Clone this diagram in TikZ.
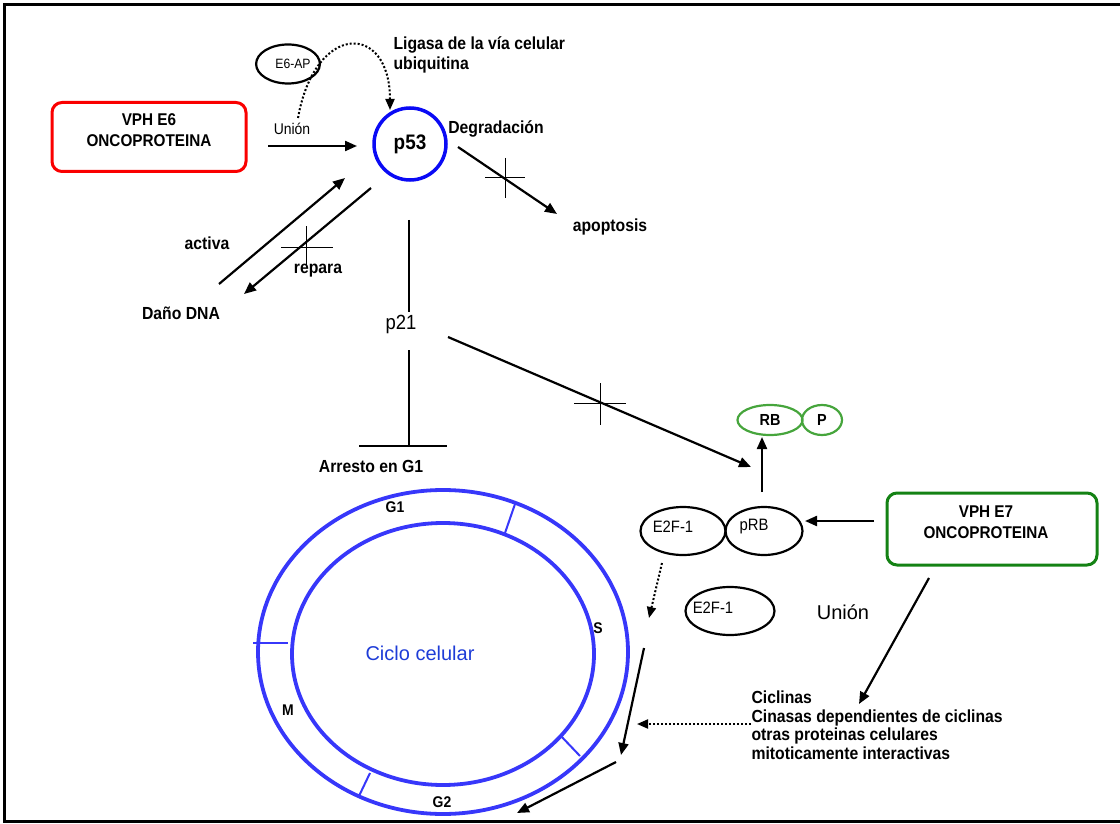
\documentclass[tikz,border=0pt]{standalone}
\usepackage{fontspec}
\setmainfont{Liberation Sans}
\newfontfamily\estrecha[FakeStretch=0.9]{Liberation Sans}
\usetikzlibrary{arrows.meta,shapes.geometric}

\definecolor{rojo}{RGB}{250,0,0}
\definecolor{verdeosc}{RGB}{20,130,20}
\definecolor{verde}{RGB}{70,165,60}
\definecolor{azul}{RGB}{10,10,245}
\definecolor{anillo}{RGB}{55,55,250}
\definecolor{azultxt}{RGB}{30,60,215}

\tikzset{
  arr/.style={line width=2.2pt,-{Triangle[length=12pt,width=10pt]}},
  dotarr/.style={line width=2pt,dash pattern=on 2pt off 2pt,-{Triangle[length=11pt,width=9pt]}},
  bar/.style={line width=2.4pt},
  cruz/.style={line width=1pt},
  lbl/.style={font=\estrecha\bfseries\fontsize{17.5}{20}\selectfont},
  reg/.style={font=\estrecha\fontsize{16.5}{18}\selectfont},
  vphbox/.style={draw,line width=3pt,rounded corners=10pt},
  vphtxt/.style={align=center,font=\estrecha\bfseries\fontsize{17}{21}\selectfont},
  elip/.style={draw,ellipse,line width=2.2pt,inner sep=0pt},
  rbelip/.style={elip,draw=verde,font=\estrecha\bfseries\fontsize{16}{18}\selectfont},
  ring/.style={draw=anillo,line width=3.8pt},
  tick/.style={draw=anillo,line width=2pt},
  fase/.style={font=\estrecha\bfseries\fontsize{15.5}{16}\selectfont}
}

\begin{document}
\begin{tikzpicture}[x=1pt,y=-1pt]
\useasboundingbox (0,0) rectangle (1120,824);
% marco
\draw[line width=3pt] (1120,5) -- (4,5) -- (4,821) -- (1120,821);

% E6 y p53
\node[vphbox,draw=rojo,minimum width=194pt,minimum height=69pt] (e6) at (149,137) {};
\node[vphtxt] (e6txt) at (149,130) {VPH E6\\ONCOPROTEINA};
\node[circle,draw=azul,line width=3.5pt,minimum size=72pt,inner sep=0pt,
  font=\estrecha\bfseries\fontsize{21}{22}\selectfont] (p53) at (410,144) {p53};
\node[elip,minimum width=60pt,minimum height=39pt,font=\estrecha\fontsize{13.5}{14}\selectfont] (e6ap) at (288,64) {\hspace{10pt}E6-AP};
\node[reg,font=\estrecha\fontsize{15.5}{16}\selectfont] (union1) at (292,129) {Unión};
\node[lbl,anchor=west,align=left] (ligasa) at (390,55) {Ligasa de la vía celular\\ubiquitina};
\node[lbl] (degr) at (496,129) {Degradación};
\node[lbl] (apop) at (610,227) {apoptosis};
\node[lbl] (activa) at (207,243) {activa};
\node[lbl] (repara) at (318,271) {repara};
\node[lbl] (dano) at (181,313) {Daño DNA};
\node[font=\estrecha\fontsize{20.5}{21}\selectfont] (p21) at (401,324) {p21};
\node[lbl] (arresto) at (371,466) {Arresto en G1};

\coordinate (u0) at (268,146);
\coordinate (u1) at (357,146);
\draw[arr] (u0) -- (u1);
\coordinate (lig0) at (298,118);
\coordinate (lig1) at (390,110);
\draw[dotarr] (lig0) .. controls (315,22) and (390,22) .. (lig1);

\coordinate (deg0) at (458,147);
\coordinate (deg1) at (557,214);
\draw[arr] (deg0) -- (deg1);
\draw[cruz] (485,178) -- (525,178) (505,158) -- (505,198);

\coordinate (act0) at (219,284);
\coordinate (act1) at (345,178);
\draw[arr] (act0) -- (act1);
\coordinate (rep0) at (371,188);
\coordinate (rep1) at (244,294);
\draw[arr] (rep0) -- (rep1);
\draw[cruz] (281,247) -- (333,247) (306,226) -- (306,266);

% p21
\coordinate (p21a) at (409,220);
\coordinate (p21b) at (409,312);
\coordinate (p21c) at (409,350);
\coordinate (p21d) at (409,446);
\coordinate (tl) at (359,446);
\coordinate (tr) at (447,446);
\draw[bar] (p21a) -- (p21b);
\draw[bar] (p21c) -- (p21d);
\draw[bar] (tl) -- (tr);
\coordinate (rb0) at (448,337);
\coordinate (rb1) at (751,467);
\draw[arr] (rb0) -- (rb1);
\draw[cruz] (574,403) -- (626,403) (600,383) -- (600,425);

% RB, E7
\node[rbelip,minimum width=65pt,minimum height=30pt] (rb) at (770,420) {RB};
\node[rbelip,minimum width=40pt,minimum height=30pt] (pfos) at (822,420) {P};
\node[vphbox,draw=verdeosc,minimum width=210pt,minimum height=72pt] (e7) at (992,529) {};
\node[vphtxt] (e7txt) at (986,522) {VPH E7\\ONCOPROTEINA};
\node[elip,minimum width=85pt,minimum height=48pt] (e2f) at (683,531) {};
\node[elip,minimum width=77pt,minimum height=48pt] (prb) at (764,531) {};
\node[elip,minimum width=89pt,minimum height=48pt] (e2flibre) at (730,611) {};
\node[reg] (e2ftxt) at (673,527) {E2F-1};
\node[reg] (prbtxt) at (754,527) {pRB};
\node[reg] (e2flibretxt) at (713,608) {E2F-1};
\node[font=\fontsize{20}{22}\selectfont] (union2) at (843,612) {Unión};

\coordinate (up0) at (762,492);
\coordinate (up1) at (762,437);
\draw[arr] (up0) -- (up1);
\coordinate (e70) at (874,521);
\coordinate (e71) at (805,521);
\draw[arr] (e70) -- (e71);
\coordinate (ef0) at (662,563);
\coordinate (ef1) at (649,618);
\draw[dotarr] (ef0) -- (ef1);
\coordinate (ci0) at (929,578);
\coordinate (ci1) at (859,704);
\draw[arr] (ci0) -- (ci1);

\node[lbl,font=\estrecha\bfseries\fontsize{17.5}{18.5}\selectfont,anchor=west,align=left] (ciclinas) at (748,725)
  {Ciclinas\\Cinasas dependientes de ciclinas\\otras proteinas celulares\\mitoticamente interactivas};
\coordinate (cd0) at (751,724);
\coordinate (cd1) at (637,724);
\draw[dotarr] (cd0) -- (cd1);
\coordinate (cy0) at (644,648);
\coordinate (cy1) at (621,755);
\draw[arr] (cy0) -- (cy1);
\coordinate (cy2) at (616,762);
\coordinate (cy3) at (517,813);
\draw[arr] (cy2) -- (cy3);

% ciclo celular
\draw[ring] (443,652) ellipse [x radius=185pt,y radius=162pt];
\draw[ring] (443,654) ellipse [x radius=151pt,y radius=131pt];
\draw[tick] (515,504) -- (505,533);
\draw[tick] (253,643) -- (288,643);
\draw[tick] (560,735) -- (580,756);
\draw[tick] (370,773) -- (359,796);
\node[fase] (g1) at (395,507) {G1};
\node[fase] (s) at (598,628) {S};
\node[fase] (m) at (288,710) {M};
\node[fase] (g2) at (442,802) {G2};
\node[text=azultxt,font=\fontsize{20}{22}\selectfont] (ciclo) at (420,653) {Ciclo celular};
\end{tikzpicture}
\end{document}
